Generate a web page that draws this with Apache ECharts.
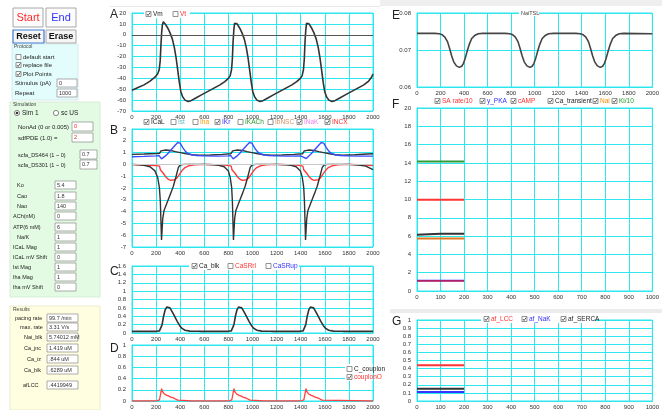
<!DOCTYPE html>
<html><head><meta charset="utf-8">
<script src="https://cdn.jsdelivr.net/npm/echarts@6/dist/echarts.min.js"></script>
<style>html,body{margin:0;padding:0;background:#fff}#c{width:662px;height:410px}</style>
</head><body><div id="c"></div>
<script>
// ---------- data ----------
const vmData = [[0,-51],[50,-48.5],[100,-46],[150,-42.5],[190,-39],[212,-36],[226,-32],[234,-24],[240,-10],[246,2],[252,9],[260,12],[275,10],[295,6.5],[315,2],[335,-4],[352,-12],[367,-22],[380,-33],[393,-44],[405,-52],[420,-57],[440,-60],[465,-61.2],[490,-60.5],[530,-58],[580,-55],[630,-52],[680,-49],[730,-46],[770,-43],[800,-40],[815,-37.5],[826,-32],[833,-22],[839,-6],[845,4],[851,10.5],[857,12],[872,10],[892,6.5],[912,2],[932,-4],[949,-12],[964,-22],[977,-33],[990,-44],[1002,-52],[1017,-57],[1037,-60],[1062,-61.2],[1087,-60.5],[1127,-58],[1177,-55],[1227,-52],[1277,-49],[1327,-46],[1367,-43],[1397,-40],[1412,-37.5],[1423,-32],[1430,-22],[1436,-6],[1442,4],[1448,10.5],[1454,12],[1469,10],[1489,6.5],[1509,2],[1529,-4],[1546,-12],[1561,-22],[1574,-33],[1587,-44],[1599,-52],[1614,-57],[1634,-60],[1659,-61.2],[1684,-60.5],[1724,-58],[1774,-55],[1824,-52],[1874,-49],[1924,-46],[1964,-42.5],[1985,-39.5],[2000,-36]];

const icalData = [[0,0],[60,-0.03],[100,-0.08],[150,-0.2],[190,-0.55],[213,-1.1],[227,-1.95],[235,-3.1],[245,-6.4],[255,-4.6],[266,-3.9],[285,-3.4],[302,-2.95],[325,-2.35],[343,-1.85],[366,-1.0],[385,-0.25],[400,-0.05],[430,0],[600,0],[680,-0.03],[720,-0.08],[765,-0.2],[800,-0.55],[815,-1.1],[827,-1.95],[833,-3.1],[842,-6.4],[852,-4.6],[862,-3.9],[881,-3.4],[898,-2.95],[921,-2.35],[939,-1.85],[962,-1.0],[981,-0.25],[996,-0.05],[1026,0],[1200,0],[1280,-0.03],[1320,-0.08],[1362,-0.2],[1398,-0.55],[1413,-1.1],[1425,-1.95],[1431,-3.1],[1440,-6.4],[1450,-4.6],[1460,-3.9],[1479,-3.4],[1496,-2.95],[1519,-2.35],[1537,-1.85],[1560,-1.0],[1579,-0.25],[1594,-0.05],[1624,0],[1800,0],[1880,-0.05],[1940,-0.15],[2000,-0.45]];

const ikrData = [[0,0.65],[100,0.68],[200,0.72],[225,0.75],[235,0.6],[245,0.47],[255,0.5],[275,0.7],[300,0.95],[330,1.3],[360,1.65],[380,1.85],[390,1.88],[400,1.8],[420,1.45],[440,1.15],[460,0.95],[490,0.82],[530,0.76],[600,0.72],[700,0.7],[800,0.72],[820,0.75],[830,0.6],[840,0.47],[850,0.5],[870,0.7],[895,0.95],[925,1.3],[955,1.65],[975,1.85],[985,1.88],[995,1.8],[1015,1.45],[1035,1.15],[1055,0.95],[1085,0.82],[1125,0.76],[1195,0.72],[1295,0.7],[1400,0.72],[1416,0.75],[1426,0.6],[1436,0.47],[1446,0.5],[1466,0.7],[1491,0.95],[1521,1.3],[1551,1.65],[1571,1.85],[1581,1.88],[1591,1.8],[1611,1.45],[1631,1.15],[1651,0.95],[1681,0.82],[1721,0.76],[1791,0.72],[1891,0.7],[2000,0.7]];

const inakData = [[0,0.85],[100,0.88],[200,0.92],[230,0.95],[240,1.15],[255,1.2],[280,1.22],[320,1.18],[360,1.08],[400,1.0],[450,0.9],[500,0.82],[560,0.78],[650,0.8],[750,0.85],[820,0.9],[835,1.15],[850,1.2],[875,1.22],[915,1.18],[955,1.08],[995,1.0],[1045,0.9],[1095,0.82],[1155,0.78],[1245,0.8],[1345,0.85],[1415,0.9],[1430,1.15],[1445,1.2],[1470,1.22],[1510,1.18],[1550,1.08],[1590,1.0],[1640,0.9],[1690,0.82],[1750,0.78],[1850,0.82],[1950,0.88],[2000,0.9]];

const incxData = [[0,-0.02],[100,-0.05],[200,-0.1],[228,-0.15],[235,-0.45],[245,-0.55],[260,-0.75],[280,-1.05],[300,-1.25],[320,-1.35],[335,-1.38],[355,-1.3],[375,-1.12],[395,-0.82],[415,-0.52],[440,-0.27],[470,-0.12],[520,-0.04],[600,0],[700,-0.02],[790,-0.08],[823,-0.15],[830,-0.45],[840,-0.55],[855,-0.75],[875,-1.05],[895,-1.25],[915,-1.35],[930,-1.38],[950,-1.3],[970,-1.12],[990,-0.82],[1010,-0.52],[1035,-0.27],[1065,-0.12],[1115,-0.04],[1195,0],[1295,-0.02],[1385,-0.08],[1418,-0.15],[1425,-0.45],[1435,-0.55],[1450,-0.75],[1470,-1.05],[1490,-1.25],[1510,-1.35],[1525,-1.38],[1545,-1.3],[1565,-1.12],[1585,-0.82],[1605,-0.52],[1630,-0.27],[1660,-0.12],[1710,-0.04],[1790,0],[1890,-0.03],[2000,-0.1]];

const caBlkData = [[0,0.04],[200,0.04],[228,0.05],[240,0.09],[250,0.2],[262,0.4],[275,0.55],[288,0.62],[300,0.63],[315,0.6],[335,0.5],[355,0.39],[375,0.28],[395,0.18],[415,0.11],[440,0.065],[480,0.045],[560,0.04],[796,0.04],[824,0.05],[836,0.09],[846,0.2],[858,0.4],[871,0.55],[884,0.62],[896,0.63],[911,0.6],[931,0.5],[951,0.39],[971,0.28],[991,0.18],[1011,0.11],[1036,0.065],[1076,0.045],[1156,0.04],[1392,0.04],[1420,0.05],[1432,0.09],[1442,0.2],[1454,0.4],[1467,0.55],[1480,0.62],[1492,0.63],[1507,0.6],[1527,0.5],[1547,0.39],[1567,0.28],[1587,0.18],[1607,0.11],[1632,0.065],[1672,0.045],[1752,0.04],[2000,0.04]];

const couplonOData = [[0,0],[180,0],[210,0.005],[228,0.02],[240,0.05],[246,0.22],[252,0.17],[266,0.13],[285,0.105],[302,0.09],[322,0.07],[343,0.055],[362,0.035],[380,0.017],[393,0],[500,0],[780,0],[810,0.005],[828,0.02],[840,0.05],[846,0.22],[852,0.17],[866,0.13],[885,0.105],[902,0.09],[922,0.07],[943,0.055],[962,0.035],[980,0.017],[993,0],[1100,0],[1378,0],[1408,0.005],[1426,0.02],[1438,0.05],[1444,0.22],[1450,0.17],[1464,0.13],[1483,0.105],[1500,0.09],[1520,0.07],[1541,0.055],[1560,0.035],[1578,0.017],[1591,0],[2000,0]];

const naiTslData = [[0,0.0745],[150,0.0745],[190,0.0744],[215,0.0741],[237,0.0735],[260,0.0722],[279,0.0702],[295,0.0684],[312,0.0668],[335,0.0657],[360,0.0653],[380,0.0656],[395,0.0664],[410,0.0678],[425,0.0695],[445,0.0716],[465,0.0731],[490,0.0739],[520,0.0744],[560,0.0745],[749,0.0745],[789,0.0744],[814,0.0741],[836,0.0735],[859,0.0722],[878,0.0702],[894,0.0684],[911,0.0668],[934,0.0657],[959,0.0653],[979,0.0656],[994,0.0664],[1009,0.0678],[1024,0.0695],[1044,0.0716],[1064,0.0731],[1089,0.0739],[1119,0.0744],[1159,0.0745],[1348,0.0745],[1388,0.0744],[1413,0.0741],[1435,0.0735],[1458,0.0722],[1477,0.0702],[1493,0.0684],[1510,0.0668],[1533,0.0657],[1558,0.0653],[1578,0.0656],[1593,0.0664],[1608,0.0678],[1623,0.0695],[1643,0.0716],[1663,0.0731],[1688,0.0739],[1718,0.0744],[1758,0.0745],[2000,0.0744]];

const fTime = [0, 50, 100, 150, 200];
const saRate10 = [9.97, 9.97, 9.97, 9.97, 9.97];
const yPKA = [1.15, 1.15, 1.15, 1.15, 1.15];
const cAMP = [1.11, 1.11, 1.11, 1.11, 1.11];
const caTransient = [6.15, 6.2, 6.25, 6.25, 6.25];
const naiF = [5.74, 5.74, 5.74, 5.74, 5.74];
const ki10 = [14.15, 14.15, 14.15, 14.15, 14.15];

const gTime = [0, 50, 100, 150, 200];
const afLCC = [0.442, 0.442, 0.442, 0.442, 0.442];
const afNaK = [0.112, 0.112, 0.112, 0.112, 0.112];
const afSERCA = [0.15, 0.15, 0.15, 0.15, 0.15];

// ---------- chart ----------
const FONT = '"Liberation Sans", Arial, sans-serif';
const CY = '#2ee6ee';
const zip = (a, b) => a.map((v, i) => [v, b[i]]);
const plain = v => String(+(+v).toFixed(4));

const grids = [
  {left:132, top:13,  width:241, height:98},
  {left:132, top:129, width:241, height:118},
  {left:132, top:266, width:241, height:67},
  {left:132, top:345, width:241, height:58},
  {left:417, top:13,  width:239, height:74},
  {left:417, top:108, width:239, height:183},
  {left:417, top:320, width:239, height:81}
].map(g => Object.assign({show:true, borderColor:CY, borderWidth:1, backgroundColor:'#fff', containLabel:false}, g));

function xAx(gi, max, interval) {
  return {gridIndex:gi, type:'value', min:0, max, interval,
    axisLine:{show:true, lineStyle:{color:CY}}, axisTick:{show:false},
    splitLine:{show:true, lineStyle:{color:CY, width:1}},
    axisLabel:{fontSize:6, color:'#333', margin:3, fontFamily:FONT, formatter:plain, showMinLabel:true, showMaxLabel:true}};
}
function yAx(gi, min, max, interval, fmt) {
  return {gridIndex:gi, type:'value', min, max, interval,
    axisLine:{show:true, lineStyle:{color:CY}}, axisTick:{show:false},
    splitLine:{show:true, lineStyle:{color:CY, width:1}},
    axisLabel:{fontSize:6, color:'#333', margin:6, fontFamily:FONT, formatter:fmt || plain, showMinLabel:true, showMaxLabel:true}};
}
function line(name, gi, data, color, w, extra) {
  return Object.assign({type:'line', name, xAxisIndex:gi, yAxisIndex:gi, data, symbol:'none', showSymbol:false,
    lineStyle:{color, width:w||1.5}, itemStyle:{color}, animation:false, smooth:false}, extra||{});
}

const series = [
  line('Vm', 0, vmData, '#333', 1.6, {markLine:{silent:true, symbol:'none', label:{show:false}, lineStyle:{color:'#555', width:1.2, type:'solid'}, data:[{yAxis:0}]}}),
  line('INaK', 1, inakData, '#333', 1.4, {markLine:{silent:true, symbol:'none', label:{show:false}, lineStyle:{color:'#c8c8c8', width:1.2, type:'solid'}, data:[{yAxis:0}]}}),
  line('IKr', 1, ikrData, '#3a4cff', 1.4),
  line('INCX', 1, incxData, '#ff3a3a', 1.4),
  line('ICaL', 1, icalData, '#333', 1.4),
  line('Ca_blk', 2, caBlkData, '#333', 1.6),
  line('couplonO', 3, couplonOData, '#ff4040', 1.3),
  line('NaiTSL', 4, naiTslData, '#444', 1.6),
  line('Ki/10', 5, zip(fTime, ki10), '#2e9a3a', 2),
  line('SA rate/10', 5, zip(fTime, saRate10), '#ff3535', 2),
  line('Ca_transient', 5, zip(fTime, caTransient), '#333', 2),
  line('Nai', 5, zip(fTime, naiF), '#e07820', 2),
  line('y_PKA', 5, zip(fTime, yPKA), '#3535ff', 1.6),
  line('cAMP', 5, zip(fTime, cAMP), '#b0206a', 1.6),
  line('af_LCC', 6, zip(gTime, afLCC), '#ff3535', 2),
  line('af_SERCA', 6, zip(gTime, afSERCA), '#333', 2),
  line('af_NaK', 6, zip(gTime, afNaK), '#3535ff', 2)
];

// ---------- graphic (panel letters, check-box legends, control panel) ----------
const parts = [];
function txt(x, y, s, opt, z) {
  parts.push({type:'text', x, y, z: z||101, silent:true,
    style:Object.assign({text:s, fill:'#222', font:'6px ' + FONT, verticalAlign:'middle', align:'left'}, opt||{})});
}
function rect(x, y, w, h, fill, stroke, lw, z) {
  parts.push({type:'rect', z: z||100, silent:true, shape:{x, y, width:w, height:h},
    style:{fill, stroke: stroke||null, lineWidth: lw||1}});
}
function cb(x, yc, checked, label, color, fs) {
  rect(x, yc - 2.5, 5, 5, '#fff', '#666', 0.7, 101);
  if (checked) parts.push({type:'polyline', z:102, silent:true,
    shape:{points:[[x + 0.9, yc], [x + 2.1, yc + 1.5], [x + 4.3, yc - 1.6]]},
    style:{stroke:'#333', lineWidth:0.8, fill:null}});
  txt(x + 7, yc, label, {fill:color, font:(fs||6.5) + 'px ' + FONT});
}
function radio(cx, cy, on, label) {
  parts.push({type:'circle', z:101, silent:true, shape:{cx, cy, r:2.6}, style:{fill:'#fff', stroke:'#555', lineWidth:0.7}});
  if (on) parts.push({type:'circle', z:102, silent:true, shape:{cx, cy, r:1.3}, style:{fill:'#333'}});
  txt(cx + 5, cy, label, {font:'6.5px ' + FONT});
}
function input(x, y, w, h, val, color) {
  rect(x, y, w, h, '#fff', '#8a8a8a', 0.7, 100);
  txt(x + 2, y + h / 2, val, {fill: color || '#333', font:'5.5px ' + FONT});
}

// background strips
rect(380, 0, 282, 6, '#efefef', null, 1, 90);
rect(110, 6, 270, 1, '#e8e8e8', null, 1, 90);
rect(390, 309, 272, 4, '#ececec', null, 1, 90);

// panel letters
[['A',110,15],['B',110,131],['C',110,272],['D',110,349],['E',392,16],['F',392,105],['G',392,322]]
  .forEach(p => txt(p[1], p[2], p[0], {font:'12px ' + FONT, fill:'#222'}));

// legends
rect(144, 10, 46, 8, '#fff', null, 1, 100);
cb(146, 14, true, 'Vm', '#222');
cb(173, 14, false, 'Vt', '#ff3030');

[['ICaL',144,true,'#222'],['Ist',171,false,'#66b8c0'],['Iha',193,false,'#ff9a00'],['IKr',215,true,'#3030ff'],
 ['IKACh',238,false,'#229a22'],['IbNSC',268,false,'#d09060'],['INaK',297,true,'#ee80ee'],['INCX',325,true,'#ff2a2a']]
  .forEach(l => cb(l[1], 122, l[2], l[0], l[3]));

rect(189, 262, 110, 8, '#fff', null, 1, 100);
cb(192, 266, true, 'Ca_blk', '#222');
cb(228, 266, false, 'CaSRrl', '#ff3030');
cb(266, 266, false, 'CaSRup', '#3030ff');

rect(345, 364, 28, 17, '#fff', null, 1, 100);
cb(347, 369, false, 'C_couplon', '#222');
cb(347, 377, true, 'couplonO', '#ff3030');

rect(519, 9, 20, 7, '#fff', null, 1, 100);
txt(521, 13, 'NaiTSL', {fill:'#444', font:'5.5px ' + FONT});

[['SA rate/10',435,'#ff3030'],['y_PKA',480,'#3030ff'],['cAMP',511,'#ff3030'],['Ca_transient',548,'#222'],['Nai',593,'#ff8a00'],['Ki/10',612,'#229a22']]
  .forEach(l => cb(l[1], 101, true, l[0], l[2]));

rect(481, 315, 114, 8, '#fff', null, 1, 100);
cb(484, 319, true, 'af_LCC', '#ff3030');
cb(522, 319, true, 'af_NaK', '#3030ff');
cb(561, 319, true, 'af_SERCA', '#222');

// control panel: buttons
rect(13, 8, 30, 19, '#fcfcfc', '#a8a8a8', 1, 100);
txt(28, 17.5, 'Start', {fill:'#ff2a2a', font:'11px ' + FONT, align:'center'});
rect(46, 8, 30, 19, '#fcfcfc', '#a8a8a8', 1, 100);
txt(61, 17.5, 'End', {fill:'#3030ff', font:'11px ' + FONT, align:'center'});
rect(13, 30, 31, 13, '#f6f6f6', '#3a7bd5', 1.2, 100);
txt(28.5, 36.8, 'Reset', {fill:'#111', font:'bold 9px ' + FONT, align:'center'});
rect(46, 30, 30, 13, '#f6f6f6', '#a8a8a8', 1, 100);
txt(61, 36.8, 'Erase', {fill:'#111', font:'bold 9px ' + FONT, align:'center'});

// protocol group
rect(12, 44, 66, 56, '#e3fcfc', '#cfe6e6', 0.8, 95);
txt(14, 47, 'Protocol', {font:'5px ' + FONT, fill:'#444'});
cb(16, 57, false, 'default start', '#222', 6);
cb(16, 65, true, 'replace file', '#222', 6);
cb(16, 74, true, 'Plot Points', '#222', 6);
txt(15, 83, 'Stimulus (pA)', {font:'6px ' + FONT});
input(57, 79, 20, 8, '0');
txt(15, 93, 'Repeat', {font:'6px ' + FONT});
input(57, 89, 20, 8, '1000');

// simulation group
rect(10, 102, 90, 195, '#e3fbe3', '#d2e8d2', 0.8, 95);
txt(13, 105, 'Simulation', {font:'5px ' + FONT, fill:'#444'});
radio(17, 113, true, 'Sim 1');
radio(56, 113, false, 'sc US');
txt(18, 127, 'NonAd (0 or 0.005)', {font:'6px ' + FONT});
input(72, 122, 21, 9, '0', '#ff2020');
txt(18, 138, 'sdfPDE (1.0) =', {font:'6px ' + FONT});
input(72, 133, 21, 9, '2', '#ff2020');
txt(18, 155, 'scfa_DS464 (1 ~ 0)', {font:'5.5px ' + FONT});
input(80, 150, 17, 9, '0.7');
txt(18, 165, 'scfa_DS301 (1 ~ 0)', {font:'5.5px ' + FONT});
input(80, 160, 17, 9, '0.7');
[['Ko',17,185,'5.4'],['Cao',17,196,'1.8'],['Nao',17,206,'140'],['ACh(nM)',13,216,'0'],['ATP(6 mM)',13,227,'6'],
 ['Na/K',17,237,'1'],['ICaL Mag',13,247,'1'],['ICaL mV Shift',13,257,'0'],['Ist Mag',13,267,'1'],['Iha Mag',13,277,'1'],['Iha mV Shift',13,287,'0']]
  .forEach(r => { txt(r[1], r[2], r[0], {font:'5.5px ' + FONT}); input(55, r[2] - 4, 21, 8, r[3]); });

// results group
rect(10, 306, 90, 104, '#fffee0', '#e6e6c8', 0.8, 95);
txt(13, 310, 'Results', {font:'5px ' + FONT, fill:'#444'});
[['pacing rate',15,318,'99.7 /min'],['max. rate',20,327,'3.31 V/s'],['Nai_blk',24,337,'5.74012 mM'],['Ca_jnc',24,348,'1.419 uM'],
 ['Ca_iz',27,359,'.844 uM'],['Ca_blk',24,370,'.6289 uM'],['afLCC',23,385,'.4419949']]
  .forEach(r => { txt(r[1], r[2], r[0], {font:'5.5px ' + FONT}); input(47, r[2] - 4, 31, 8, r[3]); });

const option = {
  animation:false,
  backgroundColor:'#fff',
  grid:grids,
  xAxis:[xAx(0,2000,200), xAx(1,2000,200), xAx(2,2000,200), xAx(3,2000,200), xAx(4,2000,200), xAx(5,1000,100), xAx(6,1000,100)],
  yAxis:[yAx(0,-70,20,10), yAx(1,-7,3,1), yAx(2,0,1.6,0.2), yAx(3,0,1,0.2), yAx(4,0.06,0.08,0.01, v => (+v).toFixed(2)), yAx(5,0,20,2), yAx(6,0,1,0.1)],
  series,
  graphic:{elements:parts}
};
const chart = echarts.init(document.getElementById('c'), null, {renderer:'canvas'});
chart.setOption(option);
</script></body></html>
